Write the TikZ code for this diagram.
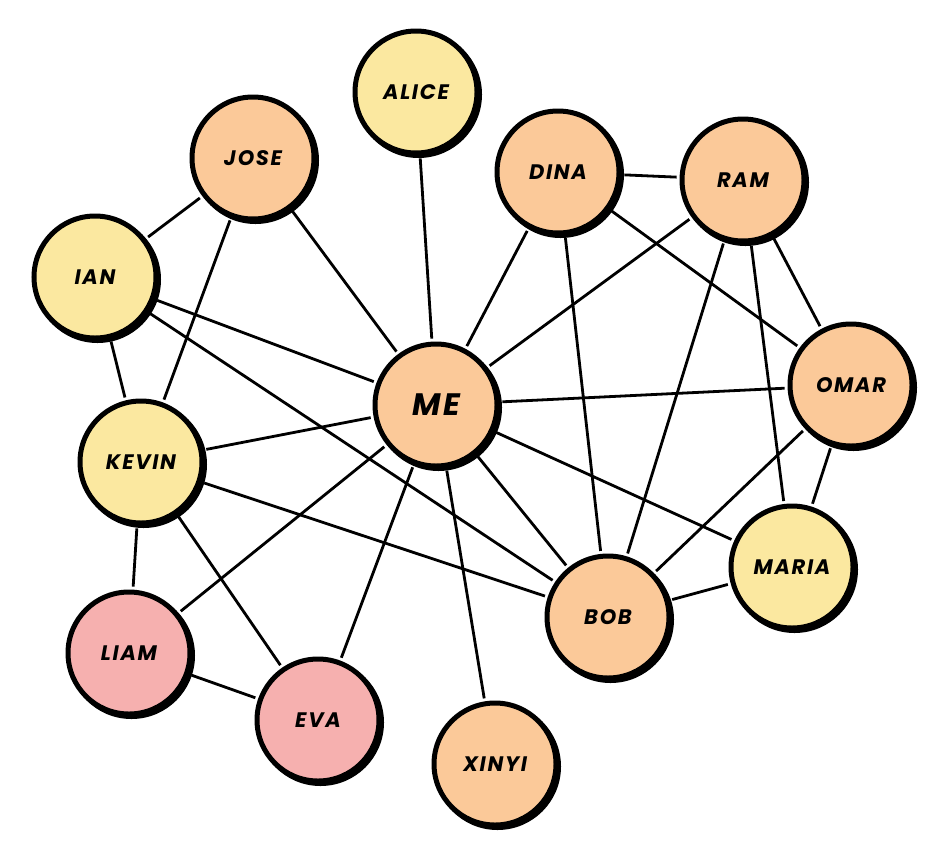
\documentclass[tikz,border=0pt]{standalone}
\usepackage{fontspec}
\newfontfamily\handfont[LetterSpace=8]{Poppins}
\definecolor{orangefill}{HTML}{FBC999}
\definecolor{yellowfill}{HTML}{FBE8A0}
\definecolor{pinkfill}{HTML}{F6B0AF}
\begin{document}
\begin{tikzpicture}[x=1pt,y=-1pt,
  person/.style={circle,minimum size=122pt,inner sep=0pt,draw=black,line width=5pt,
    font=\handfont\bfseries\itshape\fontsize{21}{23}\selectfont},
  orangep/.style={person,fill=orangefill},
  yellowp/.style={person,fill=yellowfill},
  pinkp/.style={person,fill=pinkfill},
  shadowring/.style={line width=5pt,black},
  link/.style={line width=2.8pt,black,shorten <=3pt,shorten >=3pt}]
\useasboundingbox (0,0) rectangle (952,857);
% offset outlines giving the hand-drawn double edge
\foreach \x/\y in {416/92,253/158,558/172,743/180,95/277,436/405,851/385,141/462,792/567,608/617,129/653,318/720,495/764}
  \draw[shadowring] (\x+2.5,\y+2.5) circle (61pt);
\path
 (416,92) coordinate (alice)
 (253,158) coordinate (jose)
 (558,172) coordinate (dina)
 (743,180) coordinate (ram)
 (95,277) coordinate (ian)
 (436,405) coordinate (me)
 (851,385) coordinate (omar)
 (141,462) coordinate (kevin)
 (792,567) coordinate (maria)
 (608,617) coordinate (bob)
 (129,653) coordinate (liam)
 (318,720) coordinate (eva)
 (495,764) coordinate (xinyi);
\node[yellowp] (n-alice) at (alice) {ALICE};
\node[orangep] (n-jose) at (jose) {JOSE};
\node[orangep] (n-dina) at (dina) {DINA};
\node[orangep] (n-ram) at (ram) {RAM};
\node[yellowp] (n-ian) at (ian) {IAN};
\node[orangep,font=\handfont\bfseries\itshape\fontsize{31}{33}\selectfont] (n-me) at (me) {ME};
\node[orangep] (n-omar) at (omar) {OMAR};
\node[yellowp] (n-kevin) at (kevin) {KEVIN};
\node[yellowp] (n-maria) at (maria) {MARIA};
\node[orangep] (n-bob) at (bob) {BOB};
\node[pinkp] (n-liam) at (liam) {LIAM};
\node[pinkp] (n-eva) at (eva) {EVA};
\node[orangep] (n-xinyi) at (xinyi) {XINYI};
\foreach \a/\b in {alice/me,jose/ian,jose/me,jose/kevin,ian/me,ian/bob,ian/kevin,
  kevin/me,kevin/bob,kevin/liam,kevin/eva,liam/me,liam/eva,eva/me,xinyi/me,
  me/bob,me/maria,me/omar,me/dina,me/ram,dina/ram,dina/bob,dina/omar,
  ram/bob,ram/omar,ram/maria,omar/bob,omar/maria,maria/bob}
  \draw[link] (n-\a) -- (n-\b);
\end{tikzpicture}
\end{document}
